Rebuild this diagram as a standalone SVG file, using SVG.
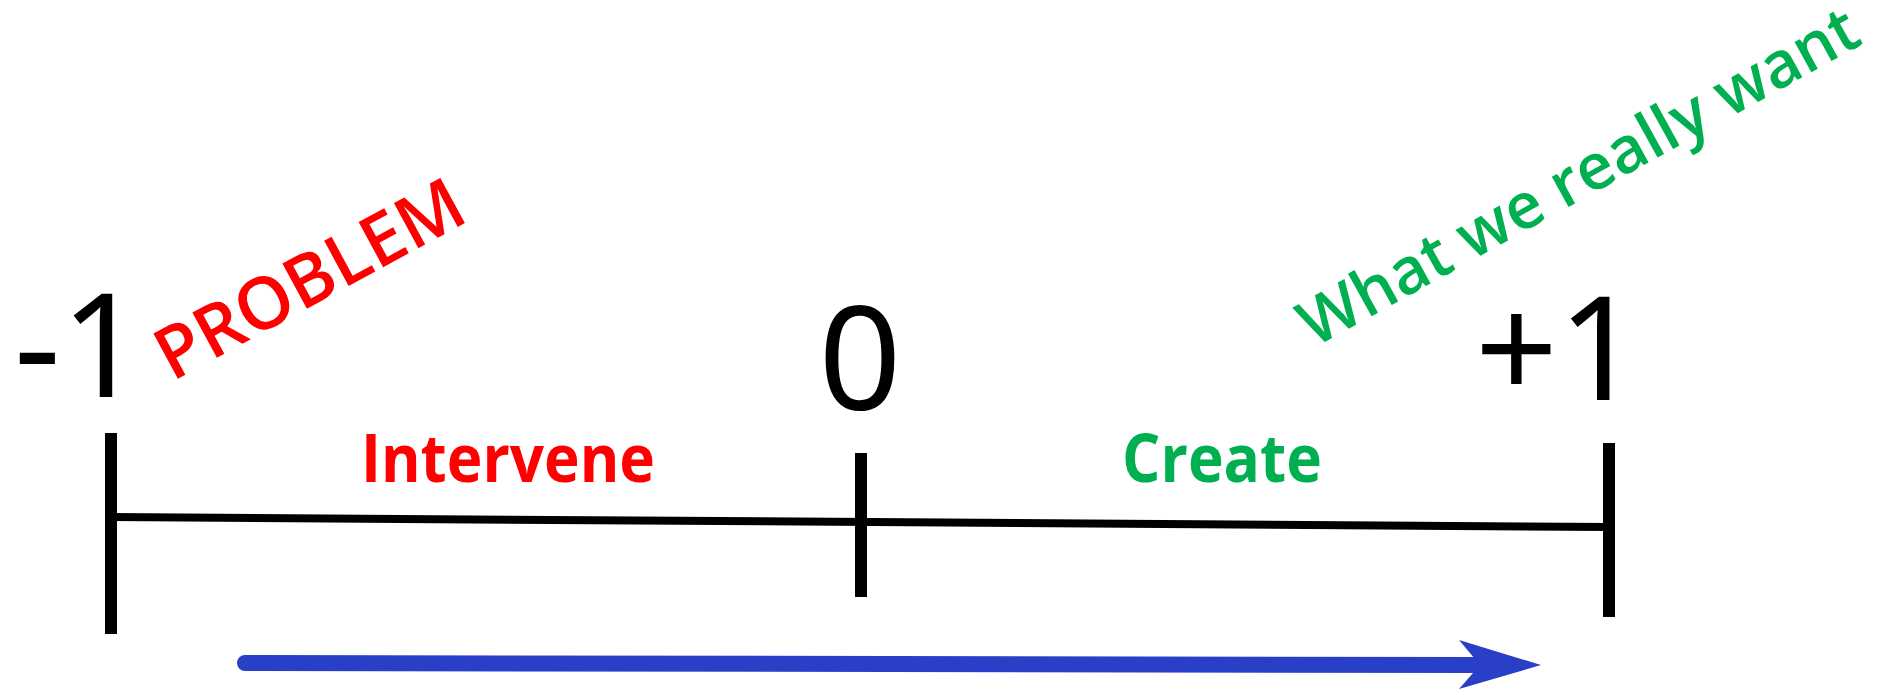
<svg xmlns="http://www.w3.org/2000/svg" width="1884" height="695" viewBox="0 0 1884 695">
<style>
.num{font-family:"Noto Sans","Liberation Sans",sans-serif;font-size:145px;fill:#000}
.lbl{font-family:"Open Sans","Noto Sans",sans-serif;font-weight:bold;font-size:66px}
.rot{font-family:"Open Sans","Noto Sans",sans-serif;font-weight:600}
.red{fill:#ff0000}
.green{fill:#00b050}
.tick{stroke:#000;stroke-width:12;fill:none}
.axis{stroke:#000;stroke-width:8;fill:none}
.arrow{stroke:#2a3fc7;stroke-width:16;stroke-linecap:round;fill:none}
</style>
<rect width="1884" height="695" fill="#fff"/>
<g id="connectors">
<line class="axis" x1="111" y1="517" x2="1609" y2="527"/>
<line class="arrow" x1="245" y1="663" x2="1484" y2="665"/>
<polygon points="1459,640 1541,665 1459,689 1480,665" fill="#2a3fc7"/>
</g>
<g id="tick-minus1"><line class="tick" x1="111" y1="433" x2="111" y2="634"/></g>
<g id="tick-0"><line class="tick" x1="861" y1="453" x2="861" y2="597"/></g>
<g id="tick-plus1"><line class="tick" x1="1609" y1="443" x2="1609" y2="617"/></g>
<g id="label-minus1"><text class="num" x="14" y="397">-1</text></g>
<g id="label-0"><text class="num" x="860" y="410" text-anchor="middle">0</text></g>
<g id="label-plus1"><text class="num" x="1475" y="400">+1</text></g>
<g id="label-intervene"><text class="lbl red" x="361" y="482" textLength="294" lengthAdjust="spacingAndGlyphs">Intervene</text></g>
<g id="label-create"><text class="lbl green" x="1122" y="482" textLength="200" lengthAdjust="spacingAndGlyphs">Create</text></g>
<g id="label-problem"><text class="rot red" font-size="72" transform="translate(172,382) rotate(-28.5)">PROBLEM</text></g>
<g id="label-want"><text class="rot green" font-size="64" transform="translate(1314,348) rotate(-29)">What we really want</text></g>
</svg>
